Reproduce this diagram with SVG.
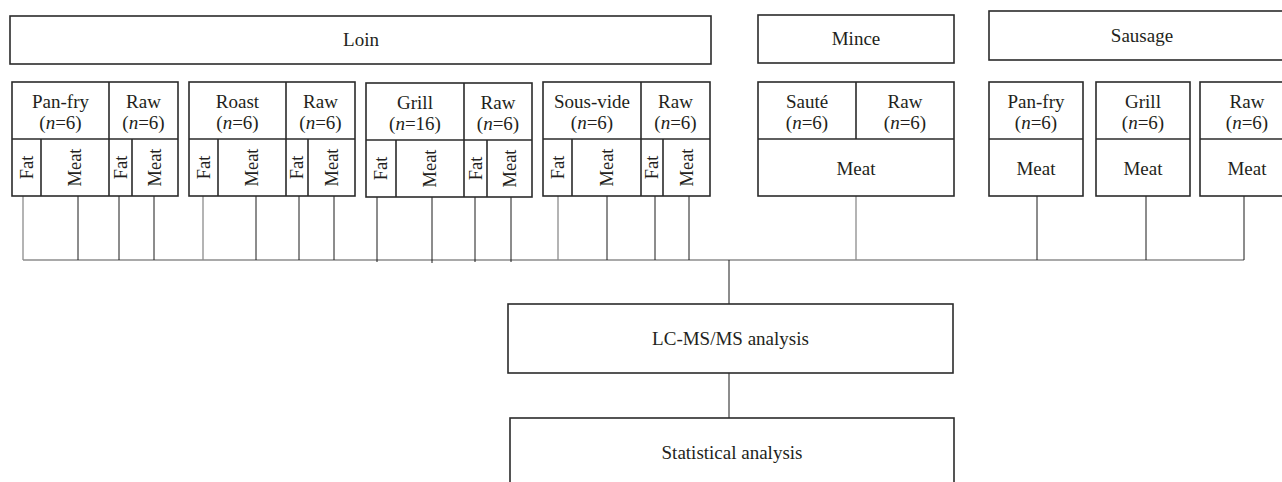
<svg xmlns="http://www.w3.org/2000/svg" width="1282" height="482" viewBox="0 0 1282 482">
<style>
.bx{fill:#fff;stroke:#2b2b2b;stroke-width:1.6}
.dv{fill:none;stroke:#2b2b2b;stroke-width:1.6}
.t{font-family:"Liberation Serif","Times New Roman",serif;font-size:19px;fill:#231f20;text-anchor:middle}
.v{font-family:"Liberation Serif","Times New Roman",serif;font-size:18.5px;fill:#231f20;text-anchor:middle}
.k{stroke:#1a1a1a;stroke-width:1;fill:none}
.g{stroke:#8c8c8c;stroke-width:1.3;fill:none}
</style>
<rect width="1282" height="482" fill="#fff"/>

<g id="connectors">
<line class="g" x1="23" y1="260" x2="1244" y2="260"/>
<line class="g" x1="23" y1="196" x2="23" y2="260"/>
<line class="k" x1="78" y1="196" x2="78" y2="260"/>
<line class="k" x1="119" y1="196" x2="119" y2="260"/>
<line class="k" x1="154" y1="196" x2="154" y2="260"/>
<line class="g" x1="203" y1="196" x2="203" y2="260"/>
<line class="k" x1="256" y1="196" x2="256" y2="260"/>
<line class="k" x1="299" y1="196" x2="299" y2="260"/>
<line class="k" x1="334" y1="196" x2="334" y2="260"/>
<line class="k" x1="377" y1="197" x2="377" y2="262"/>
<line class="k" x1="432" y1="197" x2="432" y2="263"/>
<line class="k" x1="475" y1="197" x2="475" y2="262"/>
<line class="k" x1="511" y1="197" x2="511" y2="262"/>
<line class="g" x1="558" y1="196" x2="558" y2="260"/>
<line class="k" x1="607" y1="196" x2="607" y2="260"/>
<line class="k" x1="655" y1="196" x2="655" y2="260"/>
<line class="k" x1="689" y1="196" x2="689" y2="260"/>
<line class="g" x1="856" y1="196" x2="856" y2="260"/>
<line class="k" x1="1037" y1="196" x2="1037" y2="260"/>
<line class="k" x1="1146" y1="196" x2="1146" y2="260"/>
<line class="k" x1="1244" y1="196" x2="1244" y2="260"/>
<line class="k" x1="729" y1="260" x2="729" y2="304"/>
<line class="k" x1="729" y1="373" x2="729" y2="418"/>
</g>

<g id="loin">
<rect class="bx" x="10" y="16" width="701" height="48"/>
<text class="t" x="361" y="46">Loin</text>
</g>

<g id="mince">
<rect class="bx" x="758" y="15" width="196" height="48"/>
<text class="t" x="856" y="45">Mince</text>
</g>

<g id="sausage">
<rect class="bx" x="989" y="11" width="306" height="49"/>
<text class="t" x="1142" y="42">Sausage</text>
</g>

<g id="loin-panfry">
<rect class="bx" x="12" y="82" width="166" height="114"/>
<path class="dv" d="M12 139H178M109 82V196M41 139V196M132 139V196"/>
<text class="t" x="60.5" y="108">Pan-fry</text>
<text class="t" x="60.5" y="129">(<tspan font-style="italic">n</tspan>=6)</text>
<text class="t" x="143.5" y="108">Raw</text>
<text class="t" x="143.5" y="129">(<tspan font-style="italic">n</tspan>=6)</text>
<text class="v" transform="translate(26.5,167.5) rotate(-90)" y="6">Fat</text>
<text class="v" transform="translate(75,167.5) rotate(-90)" y="6">Meat</text>
<text class="v" transform="translate(120.5,167.5) rotate(-90)" y="6">Fat</text>
<text class="v" transform="translate(155,167.5) rotate(-90)" y="6">Meat</text>
</g>

<g id="loin-roast">
<rect class="bx" x="189" y="82" width="166" height="114"/>
<path class="dv" d="M189 139H355M286 82V196M218 139V196M308 139V196"/>
<text class="t" x="237.5" y="108">Roast</text>
<text class="t" x="237.5" y="129">(<tspan font-style="italic">n</tspan>=6)</text>
<text class="t" x="320.5" y="108">Raw</text>
<text class="t" x="320.5" y="129">(<tspan font-style="italic">n</tspan>=6)</text>
<text class="v" transform="translate(203.5,167.5) rotate(-90)" y="6">Fat</text>
<text class="v" transform="translate(252,167.5) rotate(-90)" y="6">Meat</text>
<text class="v" transform="translate(297,167.5) rotate(-90)" y="6">Fat</text>
<text class="v" transform="translate(331.5,167.5) rotate(-90)" y="6">Meat</text>
</g>

<g id="loin-grill">
<rect class="bx" x="366" y="83" width="166" height="114"/>
<path class="dv" d="M366 140H532M464 83V197M396 140V197M487 140V197"/>
<text class="t" x="415" y="109">Grill</text>
<text class="t" x="415" y="130">(<tspan font-style="italic">n</tspan>=16)</text>
<text class="t" x="498" y="109">Raw</text>
<text class="t" x="498" y="130">(<tspan font-style="italic">n</tspan>=6)</text>
<text class="v" transform="translate(381,168.5) rotate(-90)" y="6">Fat</text>
<text class="v" transform="translate(430,168.5) rotate(-90)" y="6">Meat</text>
<text class="v" transform="translate(475.5,168.5) rotate(-90)" y="6">Fat</text>
<text class="v" transform="translate(509.5,168.5) rotate(-90)" y="6">Meat</text>
</g>

<g id="loin-sousvide">
<rect class="bx" x="543" y="82" width="167" height="114"/>
<path class="dv" d="M543 139H710M641 82V196M572 139V196M663 139V196"/>
<text class="t" x="592" y="108">Sous-vide</text>
<text class="t" x="592" y="129">(<tspan font-style="italic">n</tspan>=6)</text>
<text class="t" x="675.5" y="108">Raw</text>
<text class="t" x="675.5" y="129">(<tspan font-style="italic">n</tspan>=6)</text>
<text class="v" transform="translate(557.5,167.5) rotate(-90)" y="6">Fat</text>
<text class="v" transform="translate(606.5,167.5) rotate(-90)" y="6">Meat</text>
<text class="v" transform="translate(652,167.5) rotate(-90)" y="6">Fat</text>
<text class="v" transform="translate(686.5,167.5) rotate(-90)" y="6">Meat</text>
</g>

<g id="mince-saute">
<rect class="bx" x="758" y="82" width="196" height="114"/>
<path class="dv" d="M758 139H954M856 82V139"/>
<text class="t" x="807" y="108">Sauté</text>
<text class="t" x="807" y="129">(<tspan font-style="italic">n</tspan>=6)</text>
<text class="t" x="905" y="108">Raw</text>
<text class="t" x="905" y="129">(<tspan font-style="italic">n</tspan>=6)</text>
<text class="t" x="856" y="175">Meat</text>
</g>

<g id="sausage-panfry">
<rect class="bx" x="989" y="82" width="94" height="114"/>
<path class="dv" d="M989 139H1083"/>
<text class="t" x="1036" y="108">Pan-fry</text>
<text class="t" x="1036" y="129">(<tspan font-style="italic">n</tspan>=6)</text>
<text class="t" x="1036" y="175">Meat</text>
</g>

<g id="sausage-grill">
<rect class="bx" x="1096" y="82" width="94" height="114"/>
<path class="dv" d="M1096 139H1190"/>
<text class="t" x="1143" y="108">Grill</text>
<text class="t" x="1143" y="129">(<tspan font-style="italic">n</tspan>=6)</text>
<text class="t" x="1143" y="175">Meat</text>
</g>

<g id="sausage-raw">
<rect class="bx" x="1200" y="82" width="94" height="114"/>
<path class="dv" d="M1200 139H1294"/>
<text class="t" x="1247" y="108">Raw</text>
<text class="t" x="1247" y="129">(<tspan font-style="italic">n</tspan>=6)</text>
<text class="t" x="1247" y="175">Meat</text>
</g>

<g id="lcms">
<rect class="bx" x="508" y="304" width="445" height="69"/>
<text class="t" x="730.5" y="345">LC-MS/MS analysis</text>
</g>

<g id="stats">
<rect class="bx" x="510" y="418" width="444" height="70"/>
<text class="t" x="732" y="459">Statistical analysis</text>
</g>
</svg>
